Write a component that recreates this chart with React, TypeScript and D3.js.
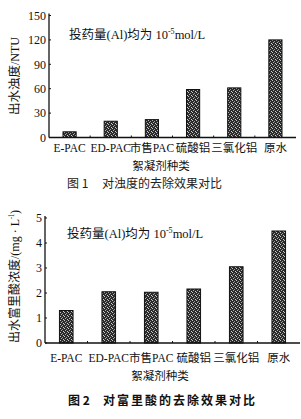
import * as d3 from 'd3';

const categories = ['E-PAC', 'ED-PAC', '市售PAC', '硫酸铝', '三氯化铝', '原水'];
const turbidity = [7, 20, 22, 59, 61, 120];
const fulvic = [1.3, 2.05, 2.03, 2.16, 3.05, 4.48];
const turbidityTicks = [0, 30, 60, 90, 120, 150];
const fulvicTicks = [0, 1, 2, 3, 4, 5];

const FONT = '"Liberation Serif", "Noto Sans CJK SC", serif';
const CJK = '"Noto Sans CJK SC", sans-serif';

// rotated axis title pieces: text, length along the axis, font size, raise
type Seg = { t: string; len: number; size: number; up: number };
const turbidityTitle: Seg[] = [
  { t: '出水浊度', len: 50, size: 12, up: 0 },
  { t: '/NTU', len: 28, size: 12, up: 0 },
];
const fulvicTitle: Seg[] = [
  { t: '出水富里酸浓度', len: 84, size: 12, up: 0 },
  { t: '/(mg · L', len: 40, size: 12, up: 0 },
  { t: '-1', len: 5, size: 8, up: 5 },
  { t: ')', len: 4, size: 12, up: 0 },
];

type PanelProps = {
  values: number[];
  ticks: number[];
  max: number;
  x0: number;
  x1: number;
  yTop: number;
  yBottom: number;
  yTitle: Seg[];
  yTitleStart: number;
  noteY: number;
  noteX: number;
  catY: number;
  titleY: number;
  titleX: number;
};

function Panel(p: PanelProps) {
  const x = d3
    .scaleBand<string>()
    .domain(categories)
    .range([p.x0, p.x1])
    .paddingInner(0.68)
    .paddingOuter(0.34);
  const y = d3.scaleLinear().domain([0, p.max]).range([p.yBottom, p.yTop]);
  // unpadded bands, for the little ticks between categories
  const base = d3.scaleBand<string>().domain(categories).range([p.x0, p.x1]);

  let offset = 0;
  const segs = p.yTitle.map((s) => {
    const at = offset;
    offset += s.len;
    return { ...s, at };
  });

  return (
    <g>
      {categories.map((c, i) => (
        <rect
          key={c}
          x={x(c)}
          y={y(p.values[i])}
          width={x.bandwidth()}
          height={y(0) - y(p.values[i])}
          fill="url(#stipple)"
          stroke="#111"
          strokeWidth={1}
        />
      ))}

      <line x1={p.x0} x2={p.x0} y1={p.yTop - 2} y2={p.yBottom} stroke="#111" strokeWidth={1.3} />
      <line x1={p.x0} x2={p.x1} y1={p.yBottom} y2={p.yBottom} stroke="#111" strokeWidth={1.3} />
      {p.ticks.map((t) => (
        <g key={t}>
          <line x1={p.x0} x2={p.x0 + 2} y1={y(t)} y2={y(t)} stroke="#111" />
          <text
            x={p.x0 - 3}
            y={y(t)}
            dy="0.35em"
            textAnchor="end"
            fontSize={12}
            fontFamily={FONT}
            fill="#111"
          >
            {t}
          </text>
        </g>
      ))}
      {categories.slice(1).map((c) => (
        <line key={c} x1={base(c)} x2={base(c)} y1={p.yBottom} y2={p.yBottom - 2} stroke="#111" />
      ))}

      {categories.map((c) => (
        <text
          key={c}
          x={(x(c) ?? 0) + x.bandwidth() / 2}
          y={p.catY}
          textAnchor="middle"
          fontSize={11.5}
          fontFamily={FONT}
          fill="#111"
        >
          {c}
        </text>
      ))}

      <text x={p.titleX} y={p.titleY} textAnchor="middle" fontSize={11.5} fontFamily={FONT} fill="#111">
        絮凝剂种类
      </text>

      <g transform={`translate(19, ${p.yTitleStart}) rotate(-90)`}>
        {segs.map((s) => (
          <text
            key={s.t}
            x={s.at}
            y={-s.up}
            fontSize={s.size}
            fontFamily={FONT}
            fill="#111"
            textLength={s.len}
            lengthAdjust="spacingAndGlyphs"
          >
            {s.t}
          </text>
        ))}
      </g>

      <text x={p.noteX} y={p.noteY} fontSize={12.5} fontFamily={FONT} fill="#111">
        投药量(Al)均为 10
        <tspan fontSize={8} dy={-5}>
          -5
        </tspan>
        <tspan dy={5}>mol/L</tspan>
      </text>
    </g>
  );
}

export default function App() {
  return (
    <svg width={301} height={419} style={{ position: 'absolute', left: 0, top: 0, background: '#fff' }}>
      <defs>
        <pattern id="stipple" width={4} height={4} patternUnits="userSpaceOnUse">
          <rect width={4} height={4} fill="#2b2b2b" />
          <rect x={0} y={0} width={1} height={1} fill="#c8c8c8" />
          <rect x={2} y={1} width={1} height={1} fill="#9a9a9a" />
          <rect x={1} y={2} width={1} height={1} fill="#b0b0b0" />
          <rect x={3} y={3} width={1} height={1} fill="#d0d0d0" />
        </pattern>
      </defs>
      <rect width={301} height={419} fill="#fff" />

      <Panel
        values={turbidity}
        ticks={turbidityTicks}
        max={150}
        x0={49}
        x1={296}
        yTop={15.5}
        yBottom={137.5}
        yTitle={turbidityTitle}
        yTitleStart={115}
        noteX={69}
        noteY={39}
        catY={152}
        titleX={161}
        titleY={169.5}
      />
      <text x={67} y={187.5} fontSize={12} fontFamily={CJK} fill="#222">
        图 1
        <tspan x={102}>对浊度的去除效果对比</tspan>
      </text>

      <Panel
        values={fulvic}
        ticks={fulvicTicks}
        max={5}
        x0={45}
        x1={300}
        yTop={218}
        yBottom={343}
        yTitle={fulvicTitle}
        yTitleStart={343}
        noteX={67}
        noteY={237.5}
        catY={361.5}
        titleX={160}
        titleY={379.5}
      />
      <text x={68} y={405} fontSize={12} fontWeight="bold" fontFamily={CJK} fill="#111">
        图 2
        <tspan x={103} letterSpacing={2}>
          对富里酸的去除效果对比
        </tspan>
      </text>
    </svg>
  );
}
